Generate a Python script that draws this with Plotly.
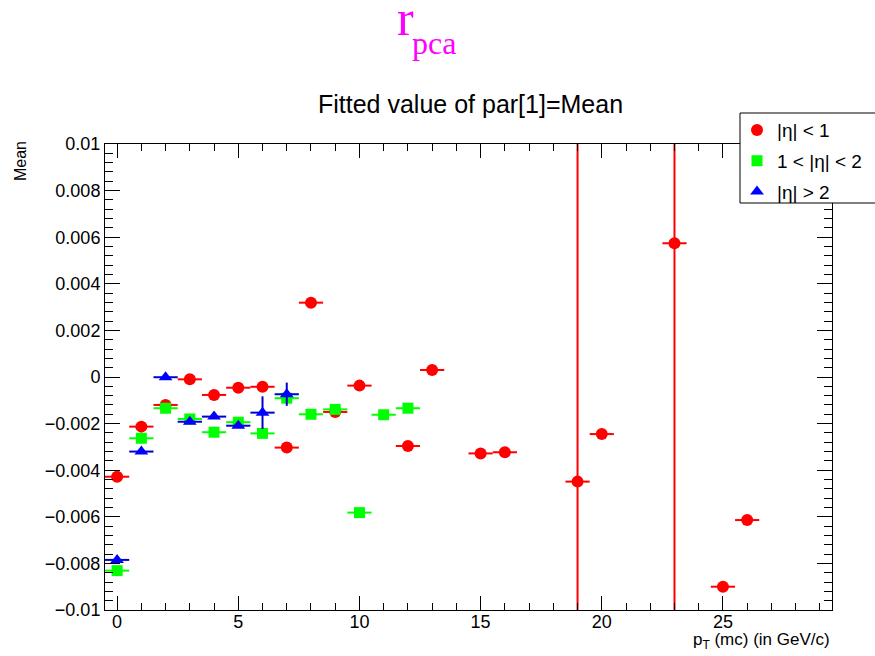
import plotly.graph_objects as go

# ---- data ----
red_x = [0, 1, 2, 3, 4, 5, 6, 7, 8, 9, 10, 12, 13, 15, 16, 19, 20, 23, 25, 26]
red_y = [-0.00428, -0.00213, -0.0012, -0.0001, -0.00077, -0.00046, -0.00042, -0.00303,
         0.00319, -0.0015, -0.00037, -0.00296, 0.0003, -0.00328, -0.00323, -0.00449,
         -0.00245, 0.00574, -0.0090, -0.00614]
red_err = [0.0001, 0.0001, 0.0001, 0.0001, 0.0001, 0.0001, 0.0001, 0.0001, 0.0001, 0.0001,
           0.0001, 0.0001, 0.0001, 0.0001, 0.0001, 0.05, 0.0001, 0.05, 0.0001, 0.0001]

green_x = [0, 1, 2, 3, 4, 5, 6, 7, 8, 9, 10, 11, 12]
green_y = [-0.00831, -0.00263, -0.00134, -0.0018, -0.00237, -0.00194, -0.00242, -0.00091,
           -0.0016, -0.00139, -0.00582, -0.00162, -0.00134]
green_err = [0.0001] * len(green_x)

blue_x = [0, 1, 2, 3, 4, 5, 6, 7]
blue_y = [-0.00785, -0.0032, -0.00001, -0.00192, -0.0017, -0.00209, -0.00153, -0.00074]
blue_err = [0.0001, 0.0001, 0.0001, 0.0001, 0.0001, 0.0001, 0.0007, 0.0005]

bin_half = 0.5
labels = ["|\u03b7| < 1", "1 < |\u03b7| < 2", "|\u03b7| > 2"]

FONT = "Liberation Sans"

fig = go.Figure()

series = [
    (red_x, red_y, red_err, "#ff0000", "#ff0000", "circle", 12, labels[0]),
    (green_x, green_y, green_err, "#00ff00", "#00ff00", "square", 11, labels[1]),
    (blue_x, blue_y, blue_err, "#0000ff", "#0000cc", "triangle-up", 12, labels[2]),
]
for i, (xs, ys, es, col, ecol, sym, sz, name) in enumerate(series):
    fig.add_trace(go.Scatter(
        x=xs, y=ys, mode="markers", name=name, legendgroup=f"g{i}",
        marker=dict(color=col, symbol=sym, size=sz, line=dict(width=0)),
        error_x=dict(type="constant", value=bin_half, color=ecol, thickness=2, width=0),
        error_y=dict(type="data", array=es, color=ecol, thickness=2, width=0),
    ))

axis_common = dict(
    showline=True, linecolor="black", linewidth=1, mirror="ticks",
    ticks="inside", tickcolor="black", showgrid=False, zeroline=False,
    tickfont=dict(family=FONT, size=18, color="black"),
)

fig.update_xaxes(range=[-0.5, 29.5], dtick=5, tick0=0, ticklen=14,
                 ticklabelstandoff=-5,
                 minor=dict(dtick=1, ticks="inside", ticklen=7, tickcolor="black"),
                 **axis_common)
fig.update_yaxes(range=[-0.01, 0.01], dtick=0.002, tick0=0, ticklen=15,
                 minor=dict(dtick=0.0004, ticks="inside", ticklen=8, tickcolor="black"),
                 **axis_common)

fig.update_layout(
    width=875, height=656,
    margin=dict(l=105, r=43, t=144, b=46, autoexpand=False),
    paper_bgcolor="white", plot_bgcolor="white",
    showlegend=True,
    legend=dict(x=(737 - 105) / 727, y=(610 - 113) / 466 + 0.004, xanchor="left", yanchor="top",
                bgcolor="rgba(0,0,0,0)", borderwidth=0,
                font=dict(family=FONT, size=19, color="black"),
                tracegroupgap=3, itemwidth=30),
    shapes=[dict(type="rect", xref="paper", yref="paper",
                 x0=(740 - 105) / 727, x1=(890 - 105) / 727,
                 y0=(610 - 203) / 466, y1=(610 - 113) / 466,
                 line=dict(color="black", width=1), fillcolor="white", layer="above")],
    annotations=[
        dict(text="r", xref="paper", yref="paper", x=(395 - 105) / 727, y=(610 - 32) / 466,
             xanchor="left", yanchor="bottom", showarrow=False, yshift=-16,
             font=dict(family="Liberation Serif", size=50, color="#ff00ff")),
        dict(text="pca", xref="paper", yref="paper", x=(410 - 105) / 727, y=(610 - 50) / 466,
             xanchor="left", yanchor="bottom", showarrow=False, yshift=-13,
             font=dict(family="Liberation Serif", size=32, color="#ff00ff")),
        dict(text="Fitted value of par[1]=Mean", xref="paper", yref="paper",
             x=(470 - 105) / 727, y=(610 - 104) / 466, xanchor="center", yanchor="middle",
             showarrow=False, font=dict(family=FONT, size=25, color="black")),
        dict(text="Mean", xref="paper", yref="paper", x=(21 - 105) / 727, y=(610 - 161) / 466,
             xanchor="center", yanchor="middle", textangle=-90, showarrow=False,
             font=dict(family=FONT, size=16, color="black")),
        dict(text="p<sub>T</sub> (mc) (in GeV/c)", xref="paper", yref="paper",
             x=1.0, y=(610 - 641) / 466, xanchor="right", yanchor="middle",
             showarrow=False, font=dict(family=FONT, size=17, color="black")),
    ],
)

fig.write_html("out.html")
